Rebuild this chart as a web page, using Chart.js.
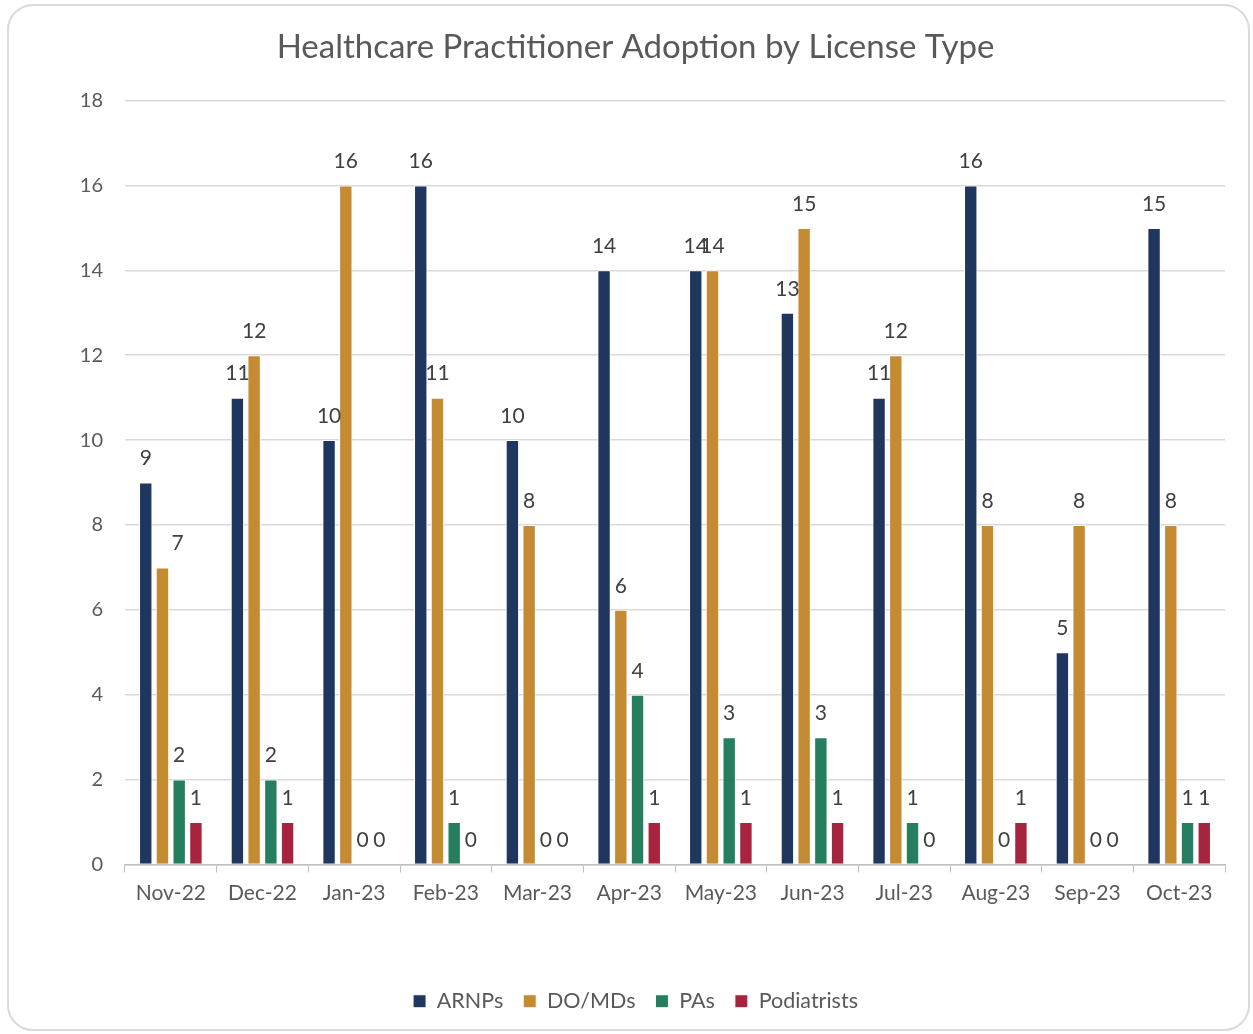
<!DOCTYPE html>
<html>
<head>
<meta charset="utf-8">
<script src="https://cdn.jsdelivr.net/npm/chart.js@4.4.1/dist/chart.umd.min.js"></script>
<style>
  html, body { margin: 0; padding: 0; background: #fff; }
  body { width: 1253px; height: 1034px; position: relative; overflow: hidden; }
  .card {
    position: absolute; left: 7px; top: 4px; width: 1243px; height: 1027px;
    border: 2px solid #dadada; border-radius: 26px; box-sizing: border-box;
  }
  #wrap { position: absolute; left: 0; top: 0; width: 1253px; height: 1034px; }
</style>
</head>
<body>
<div class="card"></div>
<div id="wrap"><canvas id="chart" width="1253" height="1034"></canvas></div>
<script>
// Monthly adoption counts by license type
const months = ['Nov-22', 'Dec-22', 'Jan-23', 'Feb-23', 'Mar-23', 'Apr-23', 'May-23', 'Jun-23', 'Jul-23', 'Aug-23', 'Sep-23', 'Oct-23'];
const arnps       = [9, 11, 10, 16, 10, 14, 14, 13, 11, 16, 5, 15];
const doMds       = [7, 12, 16, 11, 8, 6, 14, 15, 12, 8, 8, 8];
const pas         = [2, 2, 0, 1, 0, 4, 3, 3, 1, 0, 0, 1];
const podiatrists = [1, 1, 0, 0, 0, 1, 1, 1, 0, 1, 0, 1];
const yTicks = [0, 2, 4, 6, 8, 10, 12, 14, 16, 18];

const FONT = 'Lato, "Open Sans", sans-serif';
const GREY = '#595959';

// Excel-style value labels sitting above each bar end
const barLabels = {
  id: 'barLabels',
  afterDatasetsDraw(chart) {
    const { ctx } = chart;
    ctx.save();
    ctx.font = '21px ' + FONT;
    ctx.fillStyle = '#404040';
    ctx.textAlign = 'center';
    ctx.textBaseline = 'middle';
    chart.data.datasets.forEach((ds, i) => {
      chart.getDatasetMeta(i).data.forEach((bar, j) => {
        const shift = (ds.labelShift && ds.labelShift[j]) || 0;
        ctx.fillText(String(ds.data[j]), bar.x + shift, bar.y - 24);
      });
    });
    ctx.restore();
  }
};

const mkSet = (label, data, color) => ({
  label, data,
  backgroundColor: color,
  borderColor: '#ffffff',
  borderWidth: 1,
  categoryPercentage: 0.73,
  barPercentage: 0.8
});

const datasets = [
  mkSet('ARNPs', arnps, '#1f365f'),
  mkSet('DO/MDs', doMds, '#c48b33'),
  mkSet('PAs', pas, '#257f5e'),
  mkSet('Podiatrists', podiatrists, '#a7243e')
];
datasets[1].labelShift = [15];

new Chart(document.getElementById('chart'), {
  type: 'bar',
  data: { labels: months, datasets },
  plugins: [barLabels],
  options: {
    responsive: false,
    animation: false,
    layout: { padding: { top: 22, right: 28, bottom: 12, left: 46 } },
    plugins: {
      title: {
        display: true,
        text: 'Healthcare Practitioner Adoption by License Type',
        color: GREY,
        font: { family: FONT, size: 33, weight: 'normal' },
        padding: { top: 6, bottom: 33 }
      },
      legend: {
        position: 'bottom',
        labels: {
          color: GREY,
          font: { family: FONT, size: 21.5 },
          boxWidth: 13, boxHeight: 13,
          padding: 20
        }
      },
      tooltip: { enabled: false }
    },
    scales: {
      x: {
        grid: { display: true, drawOnChartArea: false, color: '#bfbfbf', tickLength: 8, offset: true },
        border: { color: '#bfbfbf', width: 1.5 },
        ticks: { color: GREY, font: { family: FONT, size: 21 }, padding: 8, maxRotation: 0 },
        afterFit(scale) { scale.height = 106; }
      },
      y: {
        min: 0, max: 18,
        afterBuildTicks(scale) { scale.ticks = yTicks.map(v => ({ value: v })); },
        grid: { color: '#d9d9d9', lineWidth: 1.5, drawTicks: false },
        border: { display: false },
        ticks: { color: GREY, font: { family: FONT, size: 20 }, padding: 22 },
        afterFit(scale) { scale.width = 79; }
      }
    }
  }
});
</script>
</body>
</html>
